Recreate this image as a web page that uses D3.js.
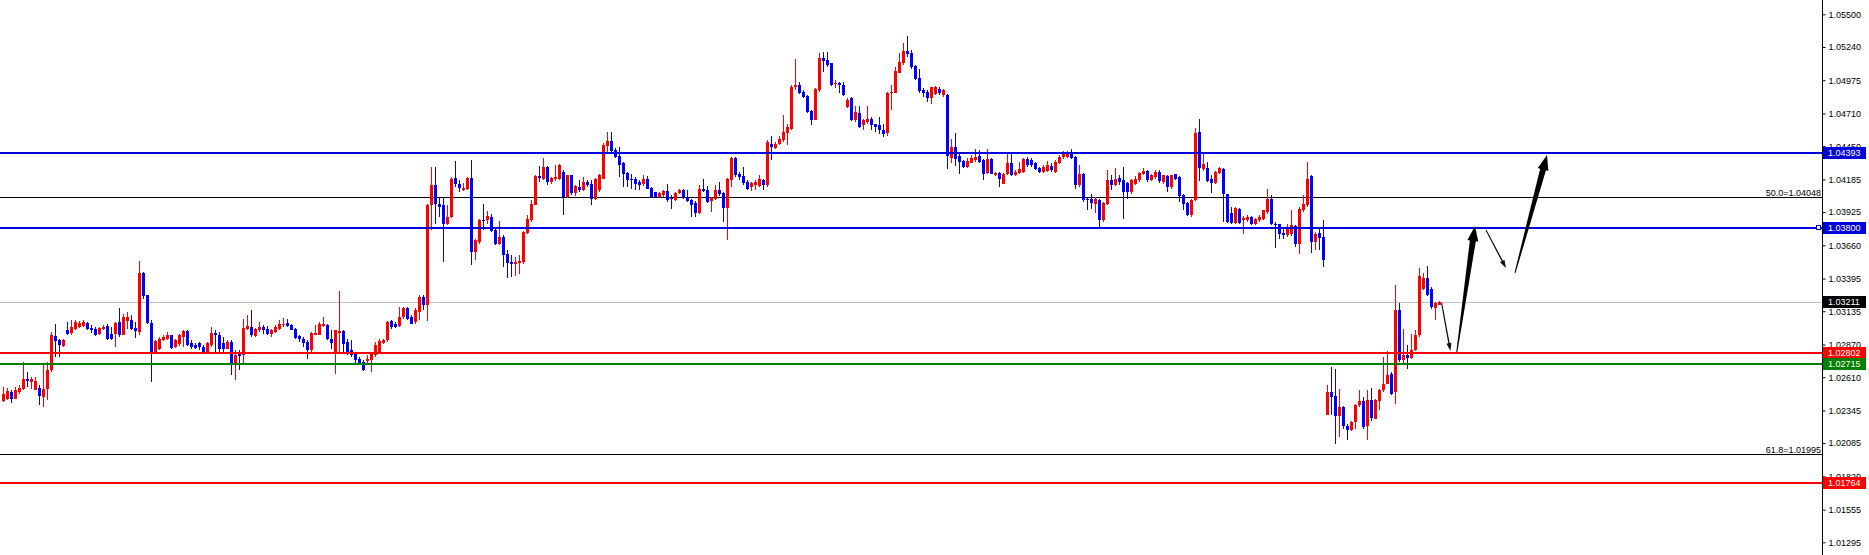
<!DOCTYPE html>
<html><head><meta charset="utf-8">
<script src="https://cdn.jsdelivr.net/npm/d3@7"></script>
<style>
html,body{margin:0;padding:0;background:#fff;overflow:hidden;}
svg{display:block;}
text{font-family:"Liberation Sans",Arial,sans-serif;}
</style></head><body>
<svg id="chart" width="1869" height="555"></svg>
<script>
// ---- DATA (EURUSD-style candles, oldest -> newest) ----
const opens = [
1.02420,1.02438,1.02491,1.02438,1.02491,1.02518,1.02598,1.02571,1.02510,1.02526,
1.02451,1.02518,1.02664,1.02936,1.02904,1.02858,1.02984,1.02965,1.02997,1.03010,
1.03018,1.03042,1.03002,1.02997,1.02954,1.02992,1.03018,1.02957,1.02954,1.03050,
1.02949,1.03055,1.03063,1.03002,1.02970,1.03441,1.03263,1.03045,1.02811,1.02837,
1.02904,1.02917,1.02944,1.02850,1.02877,1.02930,1.02976,1.02885,1.02869,1.02882,
1.02850,1.02811,1.02864,1.02965,1.02949,1.02885,1.02837,1.02890,1.02704,1.02792,
1.02784,1.02992,1.03010,1.02938,1.02984,1.03010,1.02992,1.02957,1.02970,1.02997,
1.03024,1.03042,1.03024,1.02992,1.02936,1.02917,1.02890,1.02824,1.02949,1.02949,
1.03015,1.03029,1.02917,1.02805,1.02965,1.02976,1.02890,1.02824,1.02797,1.02757,
1.02731,1.02736,1.02744,1.02784,1.02811,1.02885,1.02904,1.03055,1.03037,1.03018,
1.03090,1.03157,1.03090,1.03050,1.03130,1.03249,1.03183,1.03980,1.04139,1.03993,
1.03980,1.03833,1.03886,1.04198,1.04145,1.04099,1.04112,1.04200,1.03607,1.03687,
1.03865,1.03860,1.03886,1.03780,1.03674,1.03727,1.03594,1.03527,1.03514,1.03522,
1.03527,1.03762,1.03860,1.03985,1.04214,1.04192,1.04285,1.04166,1.04192,1.04192,
1.04246,1.04046,1.04219,1.04073,1.04126,1.04099,1.04166,1.04145,1.04028,1.04099,
1.04192,1.04453,1.04490,1.04418,1.04371,1.04312,1.04240,1.04192,1.04192,1.04166,
1.04145,1.04192,1.04118,1.04081,1.04046,1.04059,1.04091,1.04038,1.04019,1.04073,
1.04099,1.04046,1.04019,1.04001,1.03921,1.04112,1.04099,1.04011,1.04028,1.04099,
1.04073,1.03958,1.04179,1.04352,1.04231,1.04213,1.04165,1.04125,1.04138,1.04130,
1.04178,1.04138,1.04471,1.04439,1.04465,1.04497,1.04556,1.04590,1.04918,1.04936,
1.04883,1.04848,1.04729,1.04662,1.04896,1.05149,1.05136,1.05109,1.04944,1.04950,
1.04936,1.04758,1.04830,1.04657,1.04710,1.04617,1.04644,1.04670,1.04625,1.04617,
1.04582,1.04556,1.04870,1.04875,1.05035,1.05109,1.05210,1.05194,1.05088,1.04989,
1.04896,1.04883,1.04835,1.04864,1.04902,1.04856,1.04856,1.04359,1.04444,1.04370,
1.04333,1.04280,1.04317,1.04338,1.04370,1.04338,1.04237,1.04344,1.04218,1.04237,
1.04152,1.04226,1.04312,1.04218,1.04237,1.04245,1.04344,1.04338,1.04312,1.04272,
1.04245,1.04253,1.04290,1.04245,1.04317,1.04360,1.04360,1.04397,1.04365,1.04139,
1.04232,1.04032,1.04032,1.03992,1.04024,1.03859,1.03992,1.04184,1.04139,1.04200,
1.04178,1.04157,1.04085,1.04147,1.04178,1.04226,1.04253,1.04184,1.04205,1.04245,
1.04165,1.04210,1.04125,1.04226,1.04205,1.04059,1.03998,1.03899,1.04019,1.04564,
1.04264,1.04272,1.04192,1.04157,1.04237,1.04264,1.04067,1.03918,1.03838,1.03952,
1.03859,1.03859,1.03886,1.03833,1.03859,1.03872,1.03926,1.04032,1.03833,1.03827,
1.03758,1.03739,1.03748,1.03811,1.03673,1.03939,1.03979,1.04210,1.03686,1.03758,
1.03727,1.02311,1.02491,1.02459,1.02300,1.02372,1.02225,1.02193,1.02252,1.02385,
1.02420,1.02225,1.02425,1.02279,1.02417,1.02505,1.02558,1.02638,1.02491,1.03148,
1.02744,1.02784,1.02763,1.02824,1.02944,1.03311,1.03401,1.03316,1.03162,1.03188
];
const highs = [
1.02531,1.02523,1.02505,1.02531,1.02545,1.02731,1.02651,1.02611,1.02611,1.02545,
1.02718,1.02731,1.02970,1.03031,1.02917,1.02917,1.03050,1.03063,1.03063,1.03055,
1.03069,1.03050,1.03024,1.03010,1.03010,1.03024,1.03037,1.03010,1.03050,1.03162,
1.03117,1.03130,1.03103,1.03050,1.03534,1.03449,1.03268,1.03063,1.02904,1.02930,
1.02944,1.02970,1.02949,1.02917,1.02957,1.02984,1.02984,1.02904,1.02885,1.02890,
1.02864,1.02890,1.03010,1.02984,1.02970,1.02930,1.02904,1.02904,1.02824,1.02824,
1.03077,1.03103,1.03143,1.03002,1.03050,1.03024,1.03015,1.02997,1.03029,1.03063,
1.03085,1.03077,1.03037,1.03002,1.02944,1.02930,1.02904,1.02970,1.03029,1.03050,
1.03090,1.03037,1.02984,1.02984,1.03295,1.02984,1.02917,1.02904,1.02811,1.02771,
1.02744,1.02784,1.02811,1.02890,1.02917,1.02917,1.03055,1.03063,1.03050,1.03170,
1.03170,1.03170,1.03103,1.03157,1.03263,1.03263,1.03990,1.04285,1.04285,1.04046,
1.04046,1.03980,1.04206,1.04331,1.04179,1.04153,1.04206,1.04339,1.03713,1.03873,
1.03993,1.03932,1.03913,1.03793,1.03852,1.03740,1.03620,1.03580,1.03567,1.03580,
1.03772,1.03900,1.04019,1.04219,1.04293,1.04352,1.04293,1.04206,1.04299,1.04304,
1.04259,1.04224,1.04224,1.04139,1.04179,1.04206,1.04179,1.04179,1.04198,1.04232,
1.04472,1.04565,1.04559,1.04432,1.04445,1.04325,1.04246,1.04232,1.04206,1.04179,
1.04219,1.04214,1.04126,1.04086,1.04086,1.04099,1.04145,1.04059,1.04086,1.04112,
1.04107,1.04099,1.04028,1.04011,1.04139,1.04192,1.04134,1.04046,1.04139,1.04166,
1.04086,1.04198,1.04365,1.04365,1.04245,1.04285,1.04178,1.04165,1.04178,1.04218,
1.04192,1.04497,1.04529,1.04484,1.04529,1.04697,1.04630,1.04936,1.05141,1.04963,
1.04896,1.04856,1.04737,1.04910,1.05194,1.05202,1.05202,1.05114,1.04976,1.04963,
1.04963,1.04830,1.04843,1.04768,1.04768,1.04670,1.04768,1.04684,1.04630,1.04684,
1.04630,1.04883,1.04936,1.05077,1.05189,1.05269,1.05327,1.05216,1.05096,1.05061,
1.04910,1.04896,1.04923,1.04928,1.04923,1.04902,1.04862,1.04503,1.04556,1.04391,
1.04338,1.04352,1.04378,1.04431,1.04418,1.04344,1.04431,1.04352,1.04245,1.04245,
1.04237,1.04391,1.04391,1.04258,1.04325,1.04352,1.04360,1.04352,1.04325,1.04285,
1.04298,1.04333,1.04312,1.04338,1.04378,1.04413,1.04413,1.04431,1.04370,1.04298,
1.04237,1.04040,1.04072,1.04046,1.04032,1.04006,1.04258,1.04218,1.04272,1.04218,
1.04285,1.04165,1.04192,1.04210,1.04245,1.04272,1.04258,1.04232,1.04258,1.04258,
1.04224,1.04218,1.04224,1.04232,1.04210,1.04072,1.04006,1.04032,1.04591,1.04663,
1.04404,1.04325,1.04218,1.04253,1.04285,1.04272,1.04072,1.03966,1.03966,1.03960,
1.03891,1.03899,1.03891,1.03880,1.03899,1.03944,1.04112,1.04059,1.03846,1.03833,
1.03793,1.03833,1.03939,1.03819,1.03966,1.04059,1.04325,1.04218,1.03766,1.03793,
1.03859,1.02545,1.02691,1.02678,1.02513,1.02380,1.02239,1.02265,1.02398,1.02505,
1.02451,1.02505,1.02523,1.02433,1.02518,1.02771,1.02816,1.02651,1.03343,1.03204,
1.02997,1.02864,1.02957,1.02984,1.03481,1.03436,1.03497,1.03329,1.03212,1.03215
];
const lows = [
1.02412,1.02425,1.02406,1.02433,1.02478,1.02505,1.02531,1.02518,1.02505,1.02390,
1.02372,1.02425,1.02651,1.02771,1.02771,1.02850,1.02944,1.02944,1.02984,1.03002,
1.03010,1.02984,1.02965,1.02938,1.02944,1.02984,1.02904,1.02904,1.02850,1.02930,
1.02944,1.02997,1.02984,1.02922,1.02949,1.03236,1.03037,1.02571,1.02797,1.02829,
1.02896,1.02904,1.02837,1.02843,1.02858,1.02850,1.02858,1.02837,1.02832,1.02824,
1.02805,1.02805,1.02850,1.02811,1.02811,1.02811,1.02832,1.02624,1.02584,1.02664,
1.02717,1.02984,1.02930,1.02930,1.02970,1.02957,1.02949,1.02930,1.02965,1.02984,
1.03010,1.03010,1.02984,1.02912,1.02890,1.02850,1.02752,1.02811,1.02944,1.02944,
1.03010,1.02904,1.02837,1.02638,1.02811,1.02811,1.02784,1.02771,1.02717,1.02704,
1.02656,1.02704,1.02651,1.02771,1.02797,1.02877,1.02890,1.02992,1.03002,1.03010,
1.03077,1.03063,1.03037,1.03037,1.03063,1.03143,1.03056,1.03780,1.03833,1.03886,
1.03527,1.03825,1.03878,1.04126,1.04086,1.04091,1.04099,1.03501,1.03541,1.03674,
1.03780,1.03833,1.03767,1.03660,1.03660,1.03488,1.03400,1.03408,1.03416,1.03434,
1.03514,1.03754,1.03846,1.03980,1.04166,1.04179,1.04139,1.04145,1.04171,1.04179,
1.03905,1.04038,1.04059,1.04054,1.04086,1.04091,1.04126,1.03980,1.04019,1.04086,
1.04187,1.04405,1.04405,1.04352,1.04206,1.04126,1.04126,1.04112,1.04099,1.04099,
1.04134,1.04107,1.04038,1.04038,1.04038,1.04046,1.04006,1.03953,1.04011,1.04065,
1.04028,1.04006,1.03886,1.03886,1.03913,1.04086,1.04001,1.03926,1.04019,1.04054,
1.03847,1.03700,1.04126,1.04206,1.04178,1.04138,1.04098,1.04093,1.04104,1.04125,
1.04104,1.04125,1.04343,1.04431,1.04457,1.04484,1.04457,1.04577,1.04896,1.04864,
1.04830,1.04710,1.04617,1.04657,1.04883,1.05042,1.05082,1.04928,1.04910,1.04870,
1.04848,1.04750,1.04651,1.04644,1.04598,1.04577,1.04630,1.04582,1.04564,1.04550,
1.04524,1.04529,1.04737,1.04870,1.05029,1.05096,1.05162,1.05061,1.04976,1.04875,
1.04843,1.04803,1.04784,1.04856,1.04856,1.04843,1.04271,1.04317,1.04290,1.04232,
1.04272,1.04272,1.04312,1.04325,1.04317,1.04179,1.04226,1.04226,1.04210,1.04125,
1.04147,1.04218,1.04210,1.04210,1.04232,1.04237,1.04285,1.04285,1.04258,1.04237,
1.04237,1.04245,1.04245,1.04237,1.04306,1.04344,1.04352,1.04344,1.04112,1.04125,
1.04006,1.03939,1.03952,1.03918,1.03806,1.03846,1.03979,1.04099,1.04131,1.04139,
1.03872,1.04032,1.04072,1.04139,1.04165,1.04218,1.04165,1.04173,1.04192,1.04157,
1.04147,1.04085,1.04112,1.04178,1.04006,1.03939,1.03891,1.03886,1.04014,1.04173,
1.04253,1.04165,1.04077,1.04152,1.04232,1.03846,1.03838,1.03827,1.03833,1.03833,
1.03748,1.03846,1.03819,1.03819,1.03846,1.03859,1.03912,1.03819,1.03641,1.03713,
1.03713,1.03727,1.03732,1.03647,1.03588,1.03926,1.03966,1.03599,1.03625,1.03620,
1.03487,1.02305,1.02305,1.02079,1.02132,1.02199,1.02106,1.02185,1.02199,1.02372,
1.02199,1.02106,1.02265,1.02273,1.02345,1.02491,1.02558,1.02465,1.02398,1.02731,
1.02704,1.02678,1.02757,1.02816,1.02930,1.03303,1.03257,1.03151,1.03063,1.03183
];
const closes = [
1.02478,1.02497,1.02433,1.02510,1.02526,1.02598,1.02577,1.02592,1.02577,1.02459,
1.02518,1.02670,1.02949,1.02896,1.02864,1.02909,1.02957,1.03010,1.03050,1.03042,
1.03050,1.02992,1.02984,1.02949,1.03002,1.03010,1.02917,1.02912,1.03042,1.02944,
1.03090,1.03090,1.02997,1.02981,1.03436,1.03255,1.03045,1.02803,1.02896,1.02917,
1.02930,1.02944,1.02843,1.02904,1.02944,1.02976,1.02864,1.02850,1.02843,1.02850,
1.02811,1.02885,1.02965,1.02944,1.02837,1.02837,1.02890,1.02704,1.02784,1.02779,
1.03005,1.03015,1.02944,1.02992,1.03010,1.02984,1.02957,1.02984,1.03010,1.03037,
1.03037,1.03018,1.02984,1.02922,1.02917,1.02885,1.02824,1.02962,1.02965,1.03037,
1.03037,1.02917,1.02885,1.02984,1.02976,1.02877,1.02811,1.02784,1.02744,1.02725,
1.02664,1.02757,1.02803,1.02864,1.02896,1.02904,1.03050,1.03010,1.03010,1.03090,
1.03162,1.03077,1.03037,1.03143,1.03249,1.03183,1.03980,1.04139,1.03993,1.03966,
1.03833,1.03886,1.04192,1.04145,1.04118,1.04118,1.04200,1.03607,1.03700,1.03865,
1.03855,1.03894,1.03772,1.03674,1.03727,1.03586,1.03522,1.03514,1.03527,1.03532,
1.03767,1.03873,1.03993,1.04214,1.04198,1.04285,1.04166,1.04198,1.04206,1.04299,
1.04046,1.04219,1.04073,1.04131,1.04099,1.04166,1.04139,1.04028,1.04192,1.04219,
1.04458,1.04490,1.04410,1.04365,1.04299,1.04232,1.04179,1.04184,1.04145,1.04139,
1.04192,1.04112,1.04046,1.04046,1.04073,1.04091,1.04019,1.04033,1.04078,1.04104,
1.04038,1.04011,1.03980,1.03921,1.04112,1.04091,1.04006,1.04038,1.04099,1.04065,
1.03958,1.04192,1.04352,1.04219,1.04205,1.04157,1.04112,1.04157,1.04165,1.04186,
1.04138,1.04484,1.04444,1.04471,1.04510,1.04564,1.04604,1.04923,1.04936,1.04875,
1.04843,1.04723,1.04662,1.04902,1.05149,1.05130,1.05096,1.04936,1.04955,1.04936,
1.04856,1.04816,1.04657,1.04723,1.04604,1.04657,1.04670,1.04617,1.04604,1.04582,
1.04550,1.04870,1.04883,1.05048,1.05122,1.05210,1.05183,1.05077,1.04981,1.04888,
1.04875,1.04835,1.04918,1.04918,1.04875,1.04896,1.04369,1.04444,1.04351,1.04325,
1.04280,1.04333,1.04357,1.04365,1.04325,1.04232,1.04344,1.04232,1.04237,1.04192,
1.04232,1.04312,1.04218,1.04245,1.04264,1.04344,1.04298,1.04298,1.04264,1.04245,
1.04280,1.04298,1.04258,1.04325,1.04365,1.04386,1.04391,1.04352,1.04139,1.04232,
1.04019,1.04019,1.03998,1.04032,1.03859,1.03998,1.04184,1.04139,1.04192,1.04165,
1.04085,1.04085,1.04178,1.04192,1.04237,1.04253,1.04178,1.04224,1.04245,1.04173,
1.04218,1.04125,1.04218,1.04192,1.04051,1.03992,1.03899,1.04019,1.04551,1.04272,
1.04311,1.04173,1.04157,1.04245,1.04272,1.04067,1.03846,1.03838,1.03960,1.03838,
1.03880,1.03886,1.03833,1.03872,1.03886,1.03939,1.04032,1.03833,1.03819,1.03753,
1.03739,1.03806,1.03819,1.03673,1.03952,1.03992,1.04192,1.03686,1.03753,1.03719,
1.03545,1.02491,1.02451,1.02300,1.02372,1.02220,1.02193,1.02257,1.02390,1.02420,
1.02212,1.02425,1.02284,1.02425,1.02510,1.02558,1.02624,1.02478,1.03148,1.02744,
1.02784,1.02763,1.02829,1.02944,1.03414,1.03401,1.03268,1.03170,1.03204,1.03211
];

const tickValues = [1.05500,1.05240,1.04975,1.04710,1.04450,1.04185,1.03925,1.03660,
  1.03395,1.03135,1.02870,1.02610,1.02345,1.02085,1.01820,1.01555,1.01295];

const blueLevels = [1.04393, 1.03800];
const redLevels = [1.02802, 1.01764];
const greenLevels = [1.02715];
const fibRatios = ["50.0", "61.8"];
const fibPrices = [1.04048, 1.01995];
const bidPrice = 1.03211;
// hand-drawn projection arrows: [barIndex, price] start -> end
const thinArrows = [
  [[359.6, 1.03201], [361.8, 1.02818]],
  [[370.7, 1.03782], [375.7, 1.03479]]
];
const thickArrows = [
  [[363.4, 1.02810], [367.95, 1.03814]],
  [[377.95, 1.03440], [385.95, 1.04379]]
];

// ---- LAYOUT / STYLE ----
const W = 1869, H = 555, axisX = 1822;
const BULL = "#ff0000", BEAR = "#0000ff";
const LBLUE = "#0000dd", LRED = "#ff0000", LGREEN = "#008000";
const FONT = 9;

const svg = d3.select("#chart");
const y = d3.scaleLinear().domain([1.01295, 1.05500]).range([542.3, 14.3]);
const x = d3.scaleLinear().domain([0, 1]).range([3.2, 7.2]);

svg.append("rect").attr("width", W).attr("height", H).attr("fill", "#fff");

const bars = d3.range(opens.length).map(i => ({
  i, o: opens[i], h: highs[i], l: lows[i], c: closes[i]
}));

const plot = svg.append("g").attr("shape-rendering", "crispEdges");

// grey bid line (behind candles)
plot.append("line")
  .attr("x1", 0).attr("x2", axisX)
  .attr("y1", Math.round(y(bidPrice)) + 0.5).attr("y2", Math.round(y(bidPrice)) + 0.5)
  .attr("stroke", "#c0c0c0").attr("stroke-width", 1);

// fib lines (thin black)
fibPrices.forEach((p, k) => {
  const yy = Math.round(y(p)) + 0.5;
  plot.append("line").attr("x1", 0).attr("x2", axisX).attr("y1", yy).attr("y2", yy)
    .attr("stroke", "#000").attr("stroke-width", 1);
  svg.append("text").attr("x", axisX - 1).attr("y", yy - 2)
    .attr("text-anchor", "end").attr("font-size", FONT).attr("fill", "#000")
    .text(fibRatios[k] + "=" + d3.format(".5f")(p));
});

// candles
const cg = plot.append("g");
bars.forEach(d => {
  const cx = Math.floor(x(d.i));
  const col = d.c >= d.o ? BULL : BEAR;
  const top = Math.max(d.h, d.o, d.c), bot = Math.min(d.l, d.o, d.c);
  cg.append("rect").attr("x", cx).attr("width", 1)
    .attr("y", Math.round(y(top))).attr("height", Math.max(1, Math.round(y(bot)) - Math.round(y(top))))
    .attr("fill", col);
  const bt = Math.round(y(Math.max(d.o, d.c))), bb = Math.round(y(Math.min(d.o, d.c)));
  cg.append("rect").attr("x", cx - 1).attr("width", 3)
    .attr("y", bt).attr("height", Math.max(1, bb - bt))
    .attr("fill", col);
});

// level lines
function level(p, color) {
  const yy = Math.round(y(p));
  plot.append("rect").attr("x", 0).attr("width", axisX).attr("y", yy - 1).attr("height", 2).attr("fill", color);
}
blueLevels.forEach(p => level(p, LBLUE));
redLevels.forEach(p => level(p, LRED));
greenLevels.forEach(p => level(p, LGREEN));

// small handle square on the 1.03800 line
{
  const yy = Math.round(y(blueLevels[1]));
  plot.append("rect").attr("x", axisX - 5.5).attr("y", yy - 2.5).attr("width", 4).attr("height", 4)
    .attr("fill", "#fff").attr("stroke", LBLUE).attr("stroke-width", 1);
}

// arrows
function arrowPoly(a, b, w0, w1, hw, hl) {
  const dx = b[0] - a[0], dy = b[1] - a[1], L = Math.hypot(dx, dy);
  const ux = dx / L, uy = dy / L, nx = -uy, ny = ux;
  const n = [b[0] - ux * hl, b[1] - uy * hl];
  return [
    [a[0] + nx * w0 / 2, a[1] + ny * w0 / 2],
    [n[0] + nx * w1 / 2, n[1] + ny * w1 / 2],
    [n[0] + nx * hw / 2, n[1] + ny * hw / 2],
    b,
    [n[0] - nx * hw / 2, n[1] - ny * hw / 2],
    [n[0] - nx * w1 / 2, n[1] - ny * w1 / 2],
    [a[0] - nx * w0 / 2, a[1] - ny * w0 / 2]
  ];
}
const ag = svg.append("g");
const toPx = p => [x(p[0]), y(p[1])];
thinArrows.forEach(([s, e]) => {
  ag.append("polygon").attr("points", arrowPoly(toPx(s), toPx(e), 1.1, 1.4, 5, 8).join(" "))
    .attr("fill", "#111");
});
thickArrows.forEach(([s, e]) => {
  ag.append("polygon").attr("points", arrowPoly(toPx(s), toPx(e), 1, 6, 11, 15).join(" "))
    .attr("fill", "#000");
});

// price axis
const axis = d3.axisRight(y).tickValues(tickValues).tickFormat(d3.format(".5f"))
  .tickSize(3).tickPadding(3).tickSizeOuter(0);
const ax = svg.append("g").attr("transform", `translate(${axisX + 0.5},0)`).call(axis);
ax.select(".domain").remove();
ax.selectAll("text").attr("font-size", FONT).attr("font-family", "Liberation Sans, Arial, sans-serif").attr("fill", "#000");
ax.selectAll("line").attr("stroke", "#000");
svg.append("line").attr("x1", axisX + 0.5).attr("x2", axisX + 0.5).attr("y1", 0).attr("y2", H)
  .attr("stroke", "#000").attr("stroke-width", 1);

// level price labels on the axis
function tag(p, color) {
  const yy = Math.round(y(p));
  svg.append("rect").attr("x", axisX + 1).attr("y", yy - 6).attr("width", 43).attr("height", 12)
    .attr("fill", color).attr("shape-rendering", "crispEdges");
  svg.append("text").attr("x", axisX + 6).attr("y", yy).attr("dy", "0.34em")
    .attr("font-size", FONT).attr("fill", "#fff").text(d3.format(".5f")(p));
}
blueLevels.forEach(p => tag(p, LBLUE));
redLevels.forEach(p => tag(p, LRED));
greenLevels.forEach(p => tag(p, LGREEN));
tag(bidPrice, "#000");
</script>
</body></html>
